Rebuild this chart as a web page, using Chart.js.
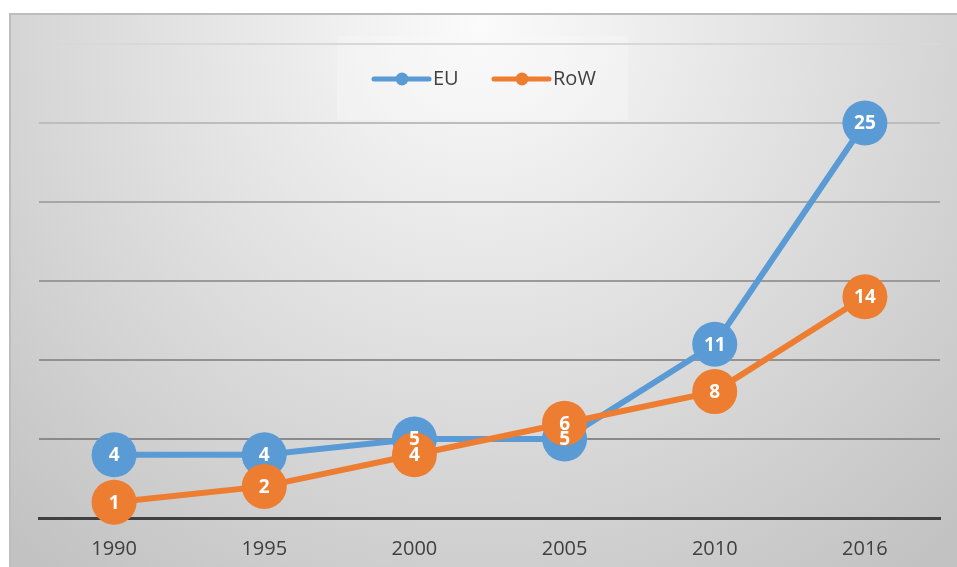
<!DOCTYPE html>
<html>
<head>
<meta charset="utf-8">
<script src="https://cdn.jsdelivr.net/npm/chart.js@4.4.1/dist/chart.umd.min.js"></script>
<style>
  html, body { margin: 0; padding: 0; background: #fff; }
  #wrap { width: 957px; height: 567px; }
</style>
</head>
<body>
<div id="wrap"><canvas id="lineChart" width="957" height="567"></canvas></div>
<script>
// values
var years = ['1990', '1995', '2000', '2005', '2010', '2016'];
var euValues = [4, 4, 5, 5, 11, 25];
var rowValues = [1, 2, 4, 6, 8, 14];
var seriesNames = ['EU', 'RoW'];

var blue = '#5B9BD5';
var orange = '#ED7D31';
var gridColors = { 0: 'rgba(0,0,0,0)', 5: '#8a8a8a', 10: '#929292', 15: '#9a9a9a', 20: '#a6a6a6', 25: '#bdbdbd', 30: '#d8d8d8' };

// gray panel with a light spot at the top, plus the legend box behind the grid
var panelPlugin = {
  id: 'panel',
  beforeDraw: function(chart) {
    var c = chart.ctx;
    c.save();
    var g = c.createRadialGradient(480, 20, 0, 480, 20, 700);
    g.addColorStop(0, '#fbfbfb');
    g.addColorStop(1, '#c2c2c2');
    c.fillStyle = g;
    c.fillRect(10, 14, 947, 553);
    c.strokeStyle = '#bdbdbd';
    c.lineWidth = 2;
    c.beginPath();
    c.moveTo(10, 567); c.lineTo(10, 14); c.lineTo(957, 14);
    c.stroke();
    c.fillStyle = 'rgba(250,250,250,0.35)';
    c.fillRect(337, 36, 291, 84);
    c.restore();
  },
  afterDatasetsDraw: function(chart) {
    var c = chart.ctx;
    c.save();
    // value labels in the markers
    c.fillStyle = '#ffffff';
    c.font = 'bold 19px "Open Sans"';
    c.textAlign = 'center';
    c.textBaseline = 'middle';
    chart.data.datasets.forEach(function(ds, i) {
      var meta = chart.getDatasetMeta(i);
      meta.data.forEach(function(pt, j) {
        c.fillText(String(ds.data[j]), pt.x, pt.y + 1);
      });
    });
    // legend
    var xs = [374, 494];
    c.font = '20px "Open Sans"';
    c.textAlign = 'left';
    chart.data.datasets.forEach(function(ds, i) {
      var x = xs[i];
      c.strokeStyle = ds.borderColor;
      c.lineWidth = 5;
      c.lineCap = 'round';
      c.beginPath();
      c.moveTo(x, 79); c.lineTo(x + 55, 79);
      c.stroke();
      c.fillStyle = ds.borderColor;
      c.beginPath();
      c.arc(x + 28, 79, 6.5, 0, Math.PI * 2);
      c.fill();
      c.fillStyle = '#404040';
      c.fillText(ds.label, x + 59, 79);
    });
    c.restore();
  }
};

var ctx = document.getElementById('lineChart');
var myChart = new Chart(ctx, {
  type: 'line',
  data: {
    labels: years,
    datasets: [{
      label: seriesNames[0],
      data: euValues,
      borderColor: blue,
      backgroundColor: blue,
      borderWidth: 6,
      pointRadius: 22.5,
      pointBorderWidth: 0,
      pointBackgroundColor: blue,
      tension: 0,
      order: 2
    }, {
      label: seriesNames[1],
      data: rowValues,
      borderColor: orange,
      backgroundColor: orange,
      borderWidth: 6,
      pointRadius: 22.5,
      pointBorderWidth: 0,
      pointBackgroundColor: orange,
      tension: 0,
      order: 1
    }]
  },
  options: {
    responsive: false,
    animation: false,
    clip: false,
    layout: { autoPadding: false, padding: { left: 39, right: 17, top: 44, bottom: 0 } },
    plugins: {
      legend: { display: false },
      tooltip: { enabled: false }
    },
    scales: {
      x: {
        offset: true,
        afterFit: function(s) { s.height = 49; s.paddingLeft = 0; s.paddingRight = 0; },
        grid: { display: false, drawTicks: false },
        border: { display: true, color: '#404040', width: 3 },
        ticks: { color: '#404040', padding: 19, font: { family: 'Open Sans', size: 20 } }
      },
      y: {
        min: 0,
        max: 30,
        afterFit: function(s) { s.width = 0; },
        ticks: { stepSize: 5, display: false },
        border: { display: false },
        grid: {
          drawTicks: false,
          lineWidth: 2,
          color: function(c) { return gridColors[c.tick.value] || '#a0a0a0'; }
        }
      }
    }
  },
  plugins: [panelPlugin]
});
</script>
</body>
</html>
